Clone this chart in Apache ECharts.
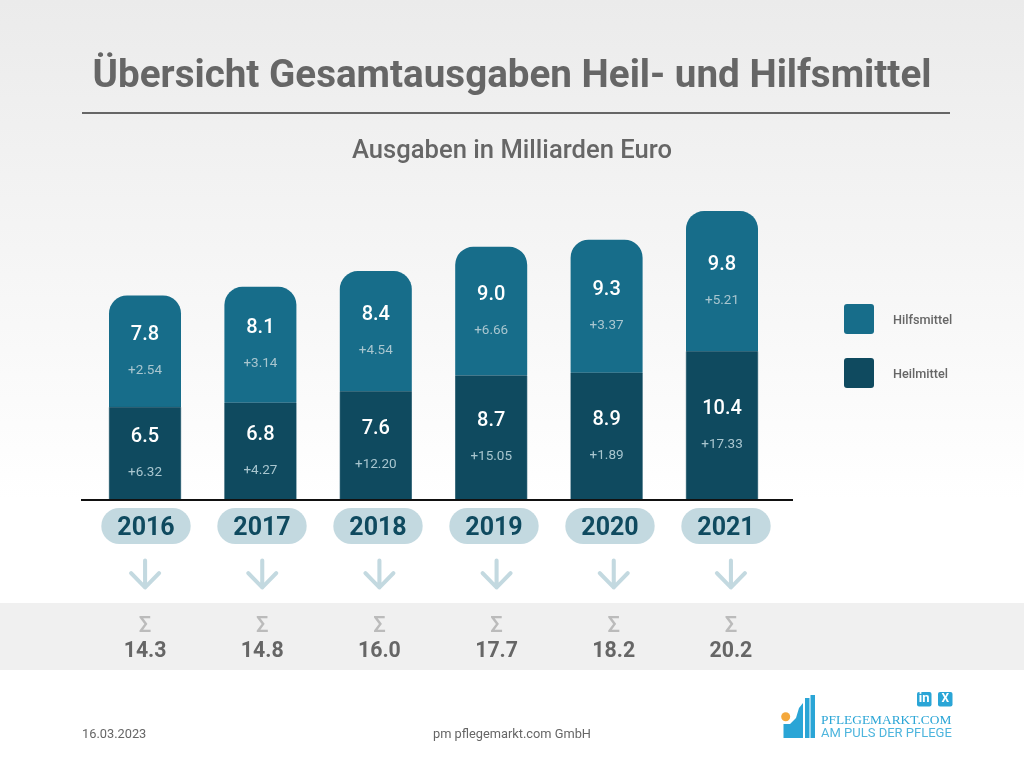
<!DOCTYPE html>
<html><head><meta charset="utf-8">
<style>html,body{margin:0;padding:0;background:#fff}#c{width:1024px;height:768px}</style>
<script src="https://cdn.jsdelivr.net/npm/echarts@6/dist/echarts.min.js"></script>
</head><body><div id="c"></div>
<script>
const years = ['2016','2017','2018','2019','2020','2021'];
const heilmittel = [6.5,6.8,7.6,8.7,8.9,10.4];
const hilfsmittel = [7.8,8.1,8.4,9.0,9.3,9.8];
const heilChange = ['+6.32','+4.27','+12.20','+15.05','+1.89','+17.33'];
const hilfChange = ['+2.54','+3.14','+4.54','+6.66','+3.37','+5.21'];
const totals = ['14.3','14.8','16.0','17.7','18.2','20.2'];
const FONT = 'Roboto';
const DARK = '#0f4a5f', MID = '#176d8a', PALE = '#c3d9e0', GREY = '#666666', LOGO = '#2aa5d6';
const ARROW = 'path://M16 0 V30 M0 14 L16 30 L32 14';

function barLabel(changes){
  return {show:true, position:'inside', offset:[0,1], fontFamily:FONT,
    formatter:p=>'{v|'+p.value.toFixed(1)+'}\n{c|'+changes[p.dataIndex]+'}',
    rich:{v:{fontFamily:FONT,fontSize:20,fontWeight:500,color:'#ffffff',lineHeight:36,align:'center'},
          c:{fontFamily:FONT,fontSize:13.5,color:'#a9c6cf',lineHeight:35,align:'center'}}};
}
const chart = echarts.init(document.getElementById('c'),null,{renderer:'canvas'});
chart.setOption({
  animation:false,
  backgroundColor:{type:'linear',x:0,y:0,x2:0,y2:1,colorStops:[{offset:0,color:'#ebebeb'},{offset:0.65,color:'#ffffff'},{offset:1,color:'#ffffff'}]},
  title:[
    {text:'Übersicht Gesamtausgaben Heil- und Hilfsmittel',left:'center',top:53,textStyle:{fontFamily:FONT,fontSize:38.6,fontWeight:700,color:GREY}},
    {text:'Ausgaben in Milliarden Euro',left:'center',top:134,textStyle:{fontFamily:FONT,fontSize:25.6,fontWeight:500,color:GREY}},
    {text:'16.03.2023',left:77,top:723,textStyle:{fontFamily:FONT,fontSize:12.8,fontWeight:400,color:GREY}},
    {text:'pm pflegemarkt.com GmbH',left:'center',top:723,textStyle:{fontFamily:FONT,fontSize:12.8,fontWeight:400,color:GREY}}
  ],
  legend:{data:['Hilfsmittel','Heilmittel'],orient:'vertical',left:844,top:304,itemWidth:30,itemHeight:30,itemGap:24,
    icon:'path://M3 0 H27 A3 3 0 0 1 30 3 V27 A3 3 0 0 1 27 30 H3 A3 3 0 0 1 0 27 V3 A3 3 0 0 1 3 0 Z',
    itemStyle:{borderWidth:0},
    selectedMode:false,padding:0,formatter:'{a|{name}}',
    textStyle:{fontFamily:FONT,fontSize:12.7,fontWeight:500,color:GREY,
      rich:{a:{fontFamily:FONT,fontSize:12.7,fontWeight:500,color:GREY,padding:[3,0,0,14]}}}},
  grid:[
    {left:87.3,width:692.4,top:199.6,height:300.4},
    {left:88,width:696,top:505,height:1},
    {left:86.5,width:703,top:559,height:30}
  ],
  xAxis:[
    {gridIndex:0,type:'category',data:years,axisLine:{show:false},axisTick:{show:false},axisLabel:{show:false}},
    {gridIndex:1,type:'category',data:years,axisLine:{show:false},axisTick:{show:false},
      axisLabel:{margin:2,fontFamily:FONT,fontSize:25,fontWeight:700,color:DARK,backgroundColor:PALE,borderRadius:18,padding:[6,16,1,16],lineHeight:29}},
    {gridIndex:2,type:'category',data:totals,axisLine:{show:false},axisTick:{show:false},
      axisLabel:{margin:24,formatter:v=>'{s|Σ}\n{t|'+v+'}',
        rich:{s:{fontFamily:FONT,fontSize:22,fontWeight:500,color:'#bbbbbb',lineHeight:26,align:'center'},
              t:{fontFamily:FONT,fontSize:21.3,fontWeight:700,color:GREY,lineHeight:26,align:'center'}}}}
  ],
  yAxis:[
    {gridIndex:0,type:'value',min:0,max:21,show:false},
    {gridIndex:1,type:'value',min:0,max:1,show:false},
    {gridIndex:2,type:'value',min:0,max:1,show:false}
  ],
  series:[
    {name:'Heilmittel',type:'bar',stack:'a',barWidth:72,xAxisIndex:0,yAxisIndex:0,z:3,data:heilmittel,itemStyle:{color:DARK,borderColor:DARK,borderWidth:0.6},label:barLabel(heilChange)},
    {name:'Hilfsmittel',type:'bar',stack:'a',barWidth:72,xAxisIndex:0,yAxisIndex:0,z:2,data:hilfsmittel,itemStyle:{color:MID,borderRadius:[18,18,0,0]},label:barLabel(hilfChange)},
    {name:'arrows',type:'scatter',xAxisIndex:2,yAxisIndex:2,silent:true,symbol:ARROW,symbolSize:[28,27],
      itemStyle:{color:'none',borderColor:PALE,borderWidth:4,borderCap:'round',borderJoin:'round',opacity:1},data:totals.map(()=>0.5)}
  ],
  graphic:[
    {type:'line',shape:{x1:82,y1:113,x2:950,y2:113},style:{stroke:GREY,lineWidth:2}},
    {type:'line',z:10,shape:{x1:81,y1:500,x2:793,y2:500},style:{stroke:'#111111',lineWidth:2}},
    {type:'rect',z:-1,shape:{x:0,y:603,width:1024,height:67},style:{fill:'#f0f0f0'}},
    // logo
    {type:'circle',shape:{cx:785.7,cy:716.7,r:4.5},style:{fill:'#f4a83c'}},
    {type:'polygon',shape:{points:[[783.5,738],[783.5,724],[790,724],[796,718],[799,708],[803,703],[803,738]]},style:{fill:LOGO}},
    {type:'rect',shape:{x:805,y:698,width:4.5,height:40},style:{fill:LOGO}},
    {type:'rect',shape:{x:810.5,y:695,width:4.5,height:43},style:{fill:LOGO}},
    {type:'rect',shape:{x:917,y:692,width:14.5,height:14.5,r:2},style:{fill:LOGO}},
    {type:'text',style:{x:924.2,y:699,text:'in',align:'center',verticalAlign:'middle',fontFamily:FONT,fontSize:13,fontWeight:700,fill:'#fff'}},
    {type:'rect',shape:{x:938,y:692,width:14.5,height:14.5,r:2},style:{fill:LOGO}},
    {type:'text',style:{x:945.2,y:699,text:'X',align:'center',verticalAlign:'middle',fontFamily:FONT,fontSize:12,fontWeight:700,fill:'#fff'}},
    {type:'text',style:{x:821,y:720,text:'PFLEGEMARKT.COM',align:'left',verticalAlign:'middle',fontFamily:'Liberation Serif',fontSize:13.4,fill:LOGO}},
    {type:'text',style:{x:821,y:734,text:'AM PULS DER PFLEGE',align:'left',verticalAlign:'middle',fontFamily:'Roboto',fontSize:13,fill:'#4db5dd'}}
  ]
});
</script></body></html>
